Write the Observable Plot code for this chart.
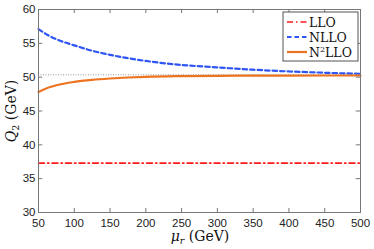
<!DOCTYPE html>
<html><head><meta charset="utf-8">
<script src="https://cdn.jsdelivr.net/npm/d3@7"></script>
<script src="https://cdn.jsdelivr.net/npm/@observablehq/plot@0.6"></script>
<style>
body{margin:0;background:#fff;}
#chart{position:relative;width:374px;height:249px;}
</style></head>
<body><div id="chart"></div>
<script>
const mu = [50,60,75,100,125,150,175,200,250,300,350,400,450,500];
const llo = [37.3,37.3,37.3,37.3,37.3,37.3,37.3,37.3,37.3,37.3,37.3,37.3,37.3,37.3];
const nllo = [57.1,56.4,55.6,54.7,53.9,53.3,52.8,52.4,51.8,51.45,51.1,50.85,50.65,50.5];
const n2llo = [47.8,48.3,48.8,49.3,49.6,49.8,49.95,50.05,50.15,50.2,50.22,50.24,50.25,50.25];
const refLine = 50.35;
const xTicks = [50,100,150,200,250,300,350,400,450,500];
const yTicks = [30,35,40,45,50,55,60];
const seriesNames = ["LLO","NLLO","N²LLO"];
const seriesColors = ["#ff1a1a","#2f55f5","#ec7420"];

const rows = (vals) => mu.map((m,i)=>({mu:m, q:vals[i]}));
const axisColor = "#777";

const plot = Plot.plot({
  width: 374, height: 249,
  marginLeft: 38, marginRight: 14, marginTop: 9, marginBottom: 37,
  style:{fontFamily:"'Liberation Sans', Arial, sans-serif", fontSize:"11.5px", color:"#222", background:"#fff"},
  x:{domain:[50,500], ticks:xTicks, tickSize:0, label:null, tickPadding:6},
  y:{domain:[30,60], ticks:yTicks, tickSize:0, label:null, tickPadding:3},
  marks:[
    Plot.ruleY([refLine], {stroke:"#999", strokeWidth:1, strokeDasharray:"1,1.5"}),
    Plot.line(rows(llo), {x:"mu", y:"q", stroke:seriesColors[0], strokeWidth:1.6, strokeDasharray:"6,3,1.5,3"}),
    Plot.line(rows(nllo), {x:"mu", y:"q", stroke:seriesColors[1], strokeWidth:2.2, strokeDasharray:"4.5,3", curve:"monotone-x"}),
    Plot.line(rows(n2llo), {x:"mu", y:"q", stroke:seriesColors[2], strokeWidth:2.2, curve:"monotone-x"}),
    Plot.ruleX(xTicks, {x:d=>d, y1:30, y2:30.6, stroke:axisColor}),
    Plot.ruleX(xTicks, {x:d=>d, y1:59.4, y2:60, stroke:axisColor}),
    Plot.ruleY(yTicks, {y:d=>d, x1:50, x2:56, stroke:axisColor}),
    Plot.ruleY(yTicks, {y:d=>d, x1:494, x2:500, stroke:axisColor}),
    Plot.frame({stroke:axisColor, strokeWidth:1})
  ]
});
document.getElementById("chart").appendChild(plot);

const svg = d3.select(plot);
// legend
const lg = svg.append("g").attr("transform","translate(283,12)");
lg.append("rect").attr("width",75).attr("height",49).attr("fill","#fff").attr("stroke","#555").attr("stroke-width",1);
const dashes = ["6,3,1.5,3","4.5,3",null];
const widths = [1.6,2.2,2.2];
seriesNames.forEach((n,i)=>{
  const yy = 10 + i*15;
  const ln = lg.append("line").attr("x1",4).attr("x2",24).attr("y1",yy).attr("y2",yy)
    .attr("stroke",seriesColors[i]).attr("stroke-width",widths[i]);
  if(dashes[i]) ln.attr("stroke-dasharray",dashes[i]);
  const t = lg.append("text").attr("x",26).attr("y",yy+4.5).attr("text-anchor","start")
    .attr("font-family","'DejaVu Serif','Liberation Serif',serif").attr("font-size","12.5px").attr("fill","#111");
  if(i===2){
    t.append("tspan").text("N");
    t.append("tspan").attr("dy",-5).attr("font-size","8px").text("2");
    t.append("tspan").attr("dy",5).text("LLO");
  } else t.text(n);
});
// axis labels
const yl = svg.append("text").attr("transform","translate(16,111) rotate(-90)").attr("text-anchor","middle")
  .attr("font-family","'DejaVu Serif','Liberation Serif',serif").attr("font-size","14px").attr("fill","#111");
yl.append("tspan").attr("font-style","italic").text("Q");
yl.append("tspan").attr("dy",3).attr("font-size","9.5px").text("2");
yl.append("tspan").attr("dy",-3).text(" (GeV)");
const xl = svg.append("text").attr("x",200).attr("y",241).attr("text-anchor","middle")
  .attr("font-family","'DejaVu Serif','Liberation Serif',serif").attr("font-size","14px").attr("fill","#111");
xl.append("tspan").attr("font-style","italic").text("μ");
xl.append("tspan").attr("dy",3).attr("font-size","9.5px").attr("font-style","italic").text("r");
xl.append("tspan").attr("dy",-3).text(" (GeV)");
</script></body></html>
